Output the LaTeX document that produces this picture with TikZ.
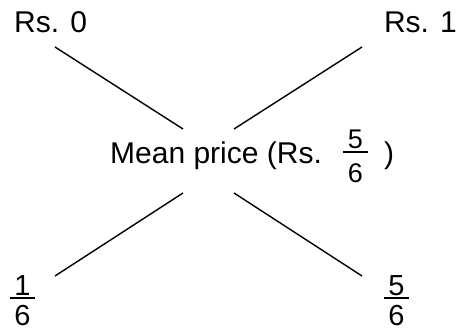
\documentclass[tikz,border=0pt]{standalone}
\usepackage{fontspec}
\setmainfont{Liberation Sans}
\begin{document}
\begin{tikzpicture}[x=1pt,y=-1pt,
  lbl/.style={inner sep=0pt,font=\fontsize{30}{35}\selectfont},
  mlbl/.style={inner sep=0pt,font=\fontsize{30}{35}\selectfont},
  flbl/.style={inner sep=0pt,font=\fontsize{29}{34}\selectfont,anchor=base},
  sflbl/.style={inner sep=0pt,font=\fontsize{27}{32}\selectfont,anchor=base},
  conn/.style={line width=1.4pt},
  fbar/.style={line width=2.6pt}]
\useasboundingbox (0,0) rectangle (458,331);
% labels
\node[lbl,anchor=base west] (r0) at (14,33) {Rs. 0};
\node[lbl,anchor=base east] (r1) at (457,33) {Rs. 1};
\node[mlbl,anchor=base west] (mp) at (110,164) {Mean price (Rs.};
\node[sflbl] (mn) at (355.5,149) {5};
\node[sflbl] (md) at (355.5,183) {6};
\draw[fbar] (343,152) coordinate (mb1) -- (368,152) coordinate (mb2);
\node[mlbl,anchor=base west] (cp) at (384,164) {)};
% bottom fractions
\node[flbl] (ln) at (22.5,295) {1};
\node[flbl] (ld) at (22.5,325.5) {6};
\draw[fbar] (10,298) coordinate (lb1) -- (35,298) coordinate (lb2);
\node[flbl] (rn) at (396.5,295) {5};
\node[flbl] (rd) at (396.5,325.5) {6};
\draw[fbar] (384,298) coordinate (rb1) -- (409,298) coordinate (rb2);
% connectors
\coordinate (a1) at (55,47);  \coordinate (a2) at (183,129);
\coordinate (b1) at (362,47); \coordinate (b2) at (234,129);
\coordinate (c1) at (183,193); \coordinate (c2) at (55,276);
\coordinate (d1) at (234,193); \coordinate (d2) at (362,276);
\draw[conn] (a1) -- (a2);
\draw[conn] (b1) -- (b2);
\draw[conn] (c1) -- (c2);
\draw[conn] (d1) -- (d2);
\end{tikzpicture}
\end{document}
